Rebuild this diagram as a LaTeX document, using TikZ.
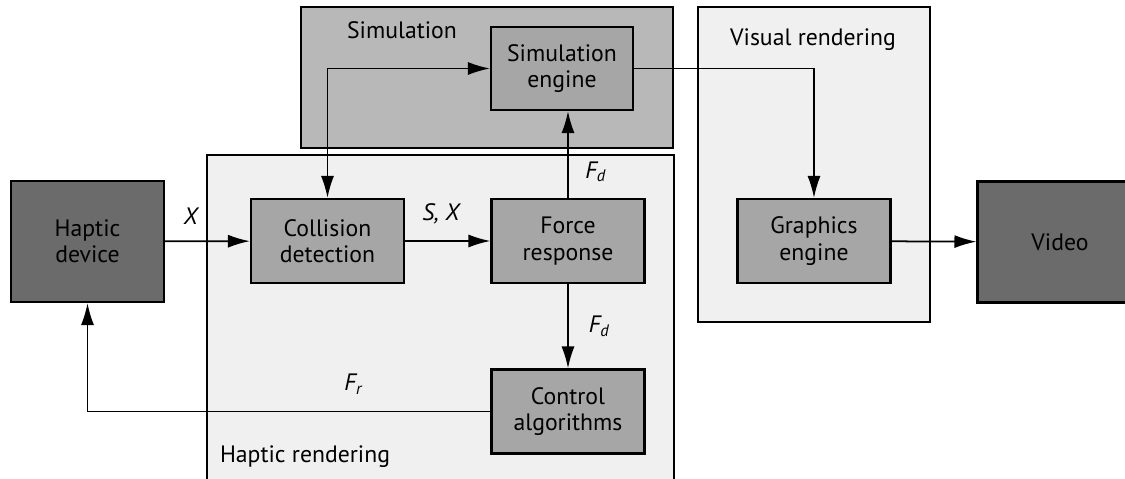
\documentclass[tikz,border=0pt]{standalone}
\usepackage{fontspec}
\setmainfont{PT Sans}
\usetikzlibrary{arrows.meta, positioning, calc}

\begin{document}
\begin{tikzpicture}[x=0.02cm, y=-0.02cm,
    every node/.style={font=\fontsize{13.5}{15}\selectfont},
    region/.style={draw=black, line width=0.9pt},
    block/.style={draw=black, line width=1.2pt, fill=black!35, align=center,
        minimum width=3.06cm, minimum height=1.68cm, inner sep=0pt},
    endbox/.style={block, fill=black!58, minimum height=2.42cm},
    flow/.style={line width=1pt, -{Latex[length=4.4mm, width=2.6mm]}},
    lbl/.style={font=\fontsize{13.5}{15}\selectfont\itshape}]
    \clip (0,0) rectangle (1125,479);
    \fill[white] (0,0) rectangle (1125,479);

    % regions
    \draw[region, fill=black!6] (207,155) rectangle (674,485);
    \draw[region, fill=black!28] (301,7) rectangle (673,148);
    \draw[region, fill=black!6] (698,7) rectangle (930,322);
    \node (simlbl) at (402,30) {Simulation};
    \node (vislbl) at (813,40) {Visual rendering};
    \node (haplbl) at (305,457) {Haptic rendering};

    % blocks
    \node[endbox] (haptic) at (87.5,241.5) {Haptic\\device};
    \node[block] (collision) at (327.5,241) {Collision\\detection};
    \node[block] (force) at (568,241) {Force\\response};
    \node[block] (control) at (568,411.5) {Control\\algorithms};
    \node[block, minimum width=2.84cm, minimum height=1.66cm] (sim) at (562,68.5) {Simulation\\engine};
    \node[block] (graphics) at (814,241) {Graphics\\engine};
    \node[endbox, minimum width=3.3cm] (video) at (1060,242) {Video};

    % connectors
    \draw[flow] (haptic) -- node[lbl, above, pos=0.3, yshift=6pt] {X} (collision);
    \draw[flow] (collision) -- node[lbl, above, pos=0.42, yshift=6pt] {S, X} (force);
    \draw[flow] (force.north) -- node[lbl, right, pos=0.3, xshift=6pt] {F\textsubscript{d}} (force.north |- sim.south);
    \draw[flow] (force) -- node[lbl, right, xshift=8pt] {F\textsubscript{d}} (control);
    \draw[flow] (control.west) -- node[lbl, above, pos=0.34, yshift=6pt] {F\textsubscript{r}} (haptic.south |- control.west) -- (haptic);
    \draw[flow, {Latex[length=4.4mm, width=2.6mm]}-{Latex[length=4.4mm, width=2.6mm]}]
        (collision.north) -- (collision.north |- sim.west) -- (sim.west);
    \draw[flow] (sim.east) -| (graphics.north);
    \draw[flow] (graphics) -- (video);
\end{tikzpicture}
\end{document}
